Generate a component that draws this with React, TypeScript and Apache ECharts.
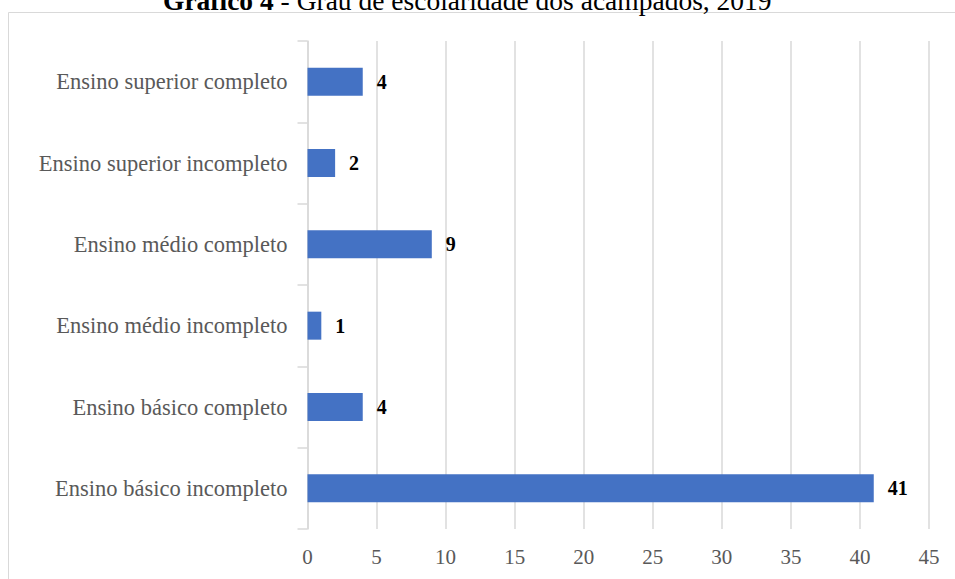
import React, { useEffect, useRef } from "react";
import * as echarts from "echarts";

const categories = [
  "Ensino básico incompleto",
  "Ensino básico completo",
  "Ensino médio incompleto",
  "Ensino médio completo",
  "Ensino superior incompleto",
  "Ensino superior completo",
];
const values = [41, 4, 1, 9, 2, 4];
const titleBold = "Gráfico 4";
const titleRest = " - Grau de escolaridade dos acampados, 2019";

const FONT = "'Liberation Serif', 'Times New Roman', serif";

export default function App() {
  const ref = useRef<HTMLDivElement>(null);
  useEffect(() => {
    if (!ref.current) return;
    const chart = echarts.init(ref.current, undefined, { renderer: "svg" });
    chart.setOption({
      animation: false,
      backgroundColor: "#ffffff",
      textStyle: { fontFamily: FONT },
      graphic: [
        {
          type: "rect",
          shape: { x: 8.5, y: 12.5, width: 1000, height: 1000 },
          style: { fill: "none", stroke: "#d9d9d9", lineWidth: 1 },
          silent: true,
        },
        {
          type: "text",
          x: 163,
          y: 0,
          style: {
            text: "{b|" + titleBold + "}{r|" + titleRest + "}",
            verticalAlign: "middle",
            align: "left",
            rich: {
              b: { fontFamily: FONT, fontSize: 27.5, fontWeight: "bold", fill: "#000" },
              r: { fontFamily: FONT, fontSize: 27.5, fill: "#000" },
            },
          },
        },
      ],
      grid: { left: 307.5, top: 41, right: 26, bottom: 50, containLabel: false },
      xAxis: {
        type: "value",
        min: 0,
        max: 45,
        interval: 5,
        axisLine: { show: false },
        axisTick: { show: false },
        splitLine: { show: true, lineStyle: { color: "#d9d9d9", width: 1.5 } },
        axisLabel: { color: "#595959", fontSize: 21, fontFamily: FONT, margin: 17 },
      },
      yAxis: {
        type: "category",
        data: categories,
        axisLine: { show: true, lineStyle: { color: "#d9d9d9", width: 1.5 } },
        axisTick: { show: true, length: 10, lineStyle: { color: "#d9d9d9", width: 1.5 } },
        axisLabel: { color: "#595959", fontSize: 22.5, fontFamily: FONT, margin: 20 },
      },
      series: [
        {
          type: "bar",
          data: values,
          barWidth: 28,
          itemStyle: { color: "#4472C4" },
          label: {
            show: true,
            position: "right",
            distance: 14,
            color: "#000",
            fontWeight: "bold",
            fontSize: 20,
            fontFamily: FONT,
          },
        },
      ],
    });
    return () => chart.dispose();
  }, []);
  return (
    <div
      ref={ref}
      style={{ position: "fixed", left: 0, top: 0, width: 955, height: 579 }}
    />
  );
}
